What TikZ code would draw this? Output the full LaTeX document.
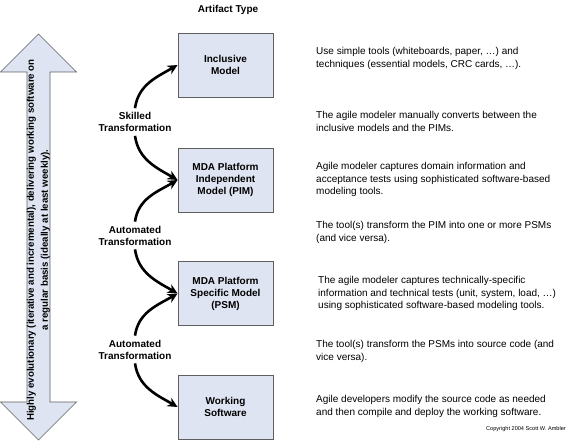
\documentclass[tikz,border=0pt]{standalone}
\usepackage{fontspec}
\setmainfont{Liberation Sans}
\usetikzlibrary{arrows.meta}
\usetikzlibrary{positioning}

\definecolor{boxfill}{RGB}{222,228,241}
\definecolor{boxline}{RGB}{95,95,95}

\tikzset{
  artifact/.style={draw=boxline,fill=boxfill,line width=0.8pt,minimum width=95pt,minimum height=64pt,
    align=center,font=\bfseries\fontsize{10}{12}\selectfont},
  trans/.style={align=center,inner sep=4pt,font=\bfseries\fontsize{10}{12}\selectfont},
  note/.style={anchor=north west,align=left,inner sep=0pt,font=\fontsize{10}{12.3}\selectfont},
  flow/.style={line width=2.6pt,-{Stealth[length=10pt,width=9.5pt]}}
}

\begin{document}
\begin{tikzpicture}[x=1pt,y=1pt]
      \useasboundingbox (0,0) rectangle (572,443);
      % evolution arrow on the left
      \draw[boxline,fill=boxfill,line width=0.6pt] (38.5,409) -- (76.5,371) -- (50,371) -- (50,41) -- (76.5,41)
      			-- (38.5,3) -- (0.5,41) -- (27,41) -- (27,371) -- (0.5,371) -- cycle;
      \node[rotate=90,align=center,inner sep=0pt,font=\bfseries\fontsize{9.7}{14}\selectfont] (evo) at (38.5,203)
      			{Highly evolutionary (iterative and incremental), delivering working software on\\
			a regular basis (ideally at least weekly).};
      \node[font=\bfseries\fontsize{10}{12}\selectfont] (head) at (228,433) {Artifact Type};
      % artifacts
      \node[artifact] (incl) at (225.5,378) {Inclusive\\Model};
      \node[artifact] (pim) at (225.5,263) {MDA Platform\\Independent\\Model (PIM)};
      \node[artifact] (psm) at (225.5,149.5) {MDA Platform\\Specific Model\\(PSM)};
      \node[artifact] (work) at (225.5,36) {Working\\Software};
      % transformations
      \node[trans] (skl) at (135,321) {Skilled\\Transformation};
      \node[trans] (auto1) at (135,207.5) {Automated\\Transformation};
      \node[trans] (auto2) at (135,93.5) {Automated\\Transformation};
      \draw[flow] (skl.north) to[out=82,in=210] (incl.west);
      \draw[flow] (skl.south) to[out=-82,in=150] (pim.west);
      \draw[flow] (auto1.north) to[out=82,in=210] (pim.west);
      \draw[flow] (auto1.south) to[out=-82,in=150] (psm.west);
      \draw[flow] (auto2.north) to[out=82,in=210] (psm.west);
      \draw[flow] (auto2.south) to[out=-82,in=150] (work.west);
      % descriptions
      \node[note] (d1) at (316,395.5) {Use simple tools (whiteboards, paper, \dots) and\\techniques (essential models, CRC cards, \dots).};
      \node[note] (d2) at (316,331.5) {The agile modeler manually converts between the\\inclusive models and the PIMs.};
      \node[note] (d3) at (316,280.5) {Agile modeler captures domain information and\\acceptance tests using sophisticated software-based\\modeling tools.};
      \node[note] (d4) at (316,221.5) {The tool(s) transform the PIM into one or more PSMs\\(and vice versa).};
      \node[note] (d5) at (318,166.5) {The agile modeler captures technically-specific\\information and technical tests (unit, system, load, \dots)\\using sophisticated software-based modeling tools.};
      \node[note] (d6) at (316,102.5) {The tool(s) transform the PSMs into source code (and\\vice versa).};
      \node[note] (d7) at (316,47.5) {Agile developers modify the source code as needed\\and then compile and deploy the working software.};
      \node[anchor=east,inner sep=0pt,font=\fontsize{5.6}{6}\selectfont] (copy) at (566,14) {Copyright 2004 Scott W. Ambler};
\end{tikzpicture}
\end{document}
